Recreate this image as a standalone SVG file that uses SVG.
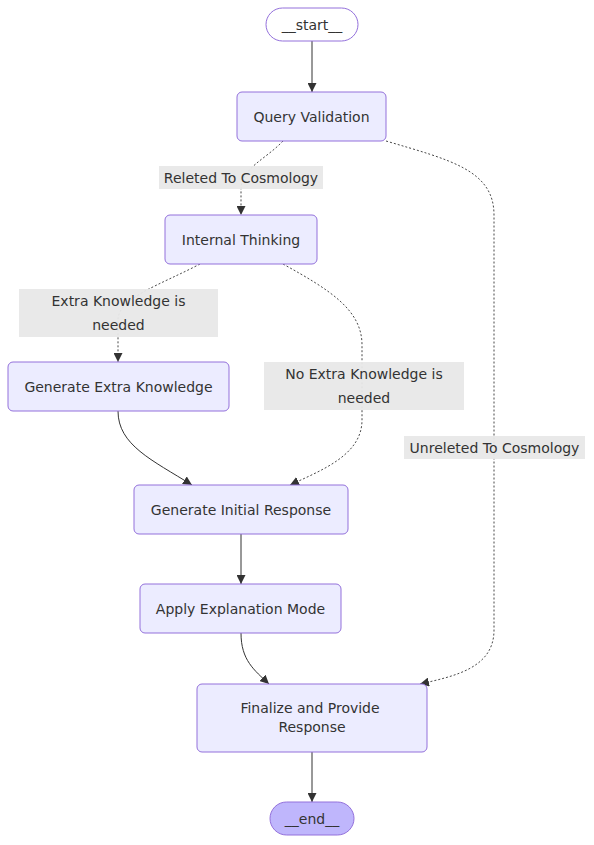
<svg xmlns="http://www.w3.org/2000/svg" width="594" height="845" viewBox="0 0 594 845">
<style>
.node rect{fill:#ECECFF;stroke:#9370DB;stroke-width:1}
.node text,.lbl text{font-family:"DejaVu Sans",Verdana,sans-serif;font-size:14px;fill:#333;text-anchor:middle;dominant-baseline:central}
.e{fill:none;stroke:#333;stroke-width:1}
.d{stroke-dasharray:2 2;stroke-width:0.9}
.lbl rect{fill:#e8e8e8;opacity:0.95}
</style>
<defs>
<marker id="ah" viewBox="0 0 10 10" refX="10" refY="5" markerUnits="userSpaceOnUse" markerWidth="9" markerHeight="9" orient="auto">
<path d="M0,0 L10,5 L0,10 z" fill="#333"/>
</marker>
</defs>
<rect width="594" height="845" fill="#fff"/>
<g id="edges">
<path class="e" d="M312,41 L312,92" marker-end="url(#ah)"/>
<path class="e d" d="M283,141 C265,160 241,168 241,190 L241,215" marker-end="url(#ah)"/>
<path class="e d" d="M386,141 C450,160 494,170 494,215 L494,630 C494,668 455,676 420,684" marker-end="url(#ah)"/>
<path class="e d" d="M200,264 C160,285 118,298 118,320 L118,362" marker-end="url(#ah)"/>
<path class="e d" d="M283,264 C330,290 362,310 362,345 L362,420 C362,455 322,470 290,485" marker-end="url(#ah)"/>
<path class="e" d="M118,411 C118,445 152,460 192,485" marker-end="url(#ah)"/>
<path class="e" d="M241,534 L241,584" marker-end="url(#ah)"/>
<path class="e" d="M241,633 C241,660 254,670 269,684" marker-end="url(#ah)"/>
<path class="e" d="M312,752 L312,802" marker-end="url(#ah)"/>
</g>
<g id="edge-labels">
<g class="lbl" id="l-releted"><rect x="159" y="166" width="164" height="23"/><text x="241" y="177.5">Releted To Cosmology</text></g>
<g class="lbl" id="l-extra"><rect x="19" y="289" width="199" height="48"/><text x="118.5" y="300.5">Extra Knowledge is</text><text x="118.5" y="324.5">needed</text></g>
<g class="lbl" id="l-noextra"><rect x="264" y="362" width="200" height="48"/><text x="364" y="373.5">No Extra Knowledge is</text><text x="364" y="397.5">needed</text></g>
<g class="lbl" id="l-unreleted"><rect x="404" y="436" width="181" height="23"/><text x="494.5" y="447.5">Unreleted To Cosmology</text></g>
</g>
<g class="node" id="start"><rect x="266" y="8" width="92" height="33" rx="16.5" ry="16.5" style="fill:#fff"/><text x="312" y="24.5">__start__</text></g>
<g class="node" id="query_validation"><rect x="237" y="92" width="149" height="49" rx="5"/><text x="311.5" y="116.5">Query Validation</text></g>
<g class="node" id="internal_thinking"><rect x="165" y="215" width="152" height="49" rx="5"/><text x="241" y="239.5">Internal Thinking</text></g>
<g class="node" id="generate_extra_knowledge"><rect x="8" y="362" width="221" height="49" rx="5"/><text x="118.5" y="386.5">Generate Extra Knowledge</text></g>
<g class="node" id="generate_initial_response"><rect x="134" y="485" width="214" height="49" rx="5"/><text x="241" y="509.5">Generate Initial Response</text></g>
<g class="node" id="apply_explanation_mode"><rect x="140" y="584" width="201" height="49" rx="5"/><text x="240.5" y="608.5">Apply Explanation Mode</text></g>
<g class="node" id="finalize"><rect x="197" y="684" width="230" height="68" rx="5"/><text x="310" y="708">Finalize and Provide</text><text x="312" y="727">Response</text></g>
<g class="node" id="end"><rect x="270" y="802" width="84" height="33" rx="16.5" ry="16.5" style="fill:#bfb6fc"/><text x="312" y="818.5">__end__</text></g>
</svg>
